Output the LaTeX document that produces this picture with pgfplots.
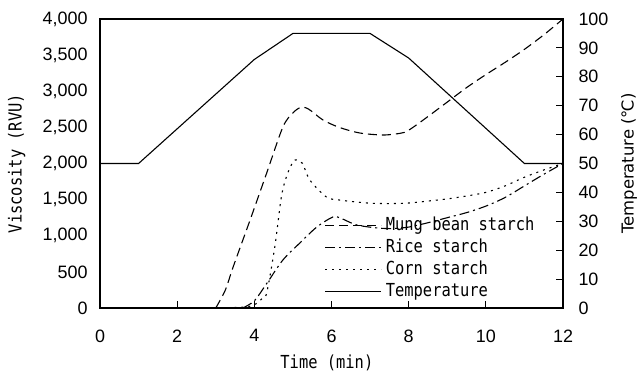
\documentclass[border=0pt]{standalone}
\usepackage{pgfplots}
\pgfplotsset{compat=1.18}
\usepackage{fontspec}
\setmainfont{Liberation Sans}
\newfontfamily\monofont[FakeStretch=0.86]{DejaVu Sans Mono}
\newfontfamily\dejavu{DejaVu Sans}
\begin{document}
\begin{tikzpicture}
\pgfplotsset{
 common/.style={
  scale only axis, width=463bp, height=289bp,
  xmin=0, xmax=12,
  axis line style={line width=1.2bp},
  tick style={line width=1bp,black},
  major tick length=7bp,
  tick align=inside,
  /pgf/number format/assume math mode=true,
  tick label style={font=\fontsize{18}{20}\selectfont},
 }
}
\begin{axis}[common,
  ymin=0, ymax=4000,
  xtick={0,2,...,12}, ytick={0,500,...,4000},
  xtick pos=bottom, ytick pos=left,
  ytick style={draw=none},
  /pgf/number format/1000 sep={,},
  scaled y ticks=false,
  xticklabel style={yshift=-18bp},
  yticklabel style={xshift=-9bp},
  xlabel={Time (min)}, ylabel={Viscosity (RVU)},
  label style={font=\monofont\fontsize{18}{20}\selectfont},
  xlabel style={at={(axis description cs:0.49,-0.19)}, anchor=center},
  ylabel style={at={(axis description cs:-0.18,0.5)}, anchor=center},
  legend style={at={(axis description cs:0.485,0.318)}, anchor=north west,
    draw=none, fill=none, font=\monofont\fontsize{18}{20}\selectfont,
    row sep=3bp, column sep=3bp, inner sep=0pt,
    nodes={inner sep=1bp, text height=13bp, text depth=4bp}},
  legend cell align=left,
  legend image code/.code={\draw[#1] (0bp,0bp) -- (56bp,0bp);},
]
\coordinate (bl) at (rel axis cs:0,0);
\coordinate (tr) at (rel axis cs:1,1);
\addplot[black, line width=1.1bp, dash pattern=on 9bp off 5bp, smooth] coordinates {
(3.0,0) (3.25,250) (3.45,567) (3.89,1218) (4.32,1868) (4.74,2505) (5.0,2700) (5.2,2775) (5.4,2755) (5.78,2602) (6.2,2500) (6.66,2430) (7.0,2405) (7.4,2395) (7.8,2420) (8.0,2460) (8.5,2650) (9.0,2850) (9.5,3050) (10.0,3230) (10.5,3400) (11.0,3580) (11.5,3780) (12.0,4000)};
\addlegendentry{Mung bean starch}
\addplot[black, line width=1.1bp, dash pattern=on 10bp off 4bp on 2bp off 4bp, smooth] coordinates {
(3.7,0) (4.0,100) (4.33,346) (4.74,664) (5.18,900) (5.62,1121) (6.04,1260) (6.25,1240) (6.65,1150) (7.2,1107) (7.6,1100) (8.0,1120) (8.5,1180) (9.0,1250) (9.5,1320) (10.0,1410) (10.5,1530) (11.0,1690) (11.5,1850) (12.0,2000)};
\addlegendentry{Rice starch}
\addplot[black, line width=1.1bp, dash pattern=on 2bp off 5bp, smooth] coordinates {
(3.3,0) (3.6,10) (3.85,20) (4.05,60) (4.2,130) (4.32,208) (4.53,844) (4.7,1536) (4.84,1830) (5.0,2020) (5.1,2050) (5.25,2000) (5.44,1770) (5.87,1536) (6.2,1495) (6.74,1462) (7.0,1450) (7.5,1445) (8.0,1453) (8.5,1480) (9.0,1510) (9.5,1550) (10.0,1600) (10.5,1690) (11.0,1810) (11.5,1910) (12.0,2000)};
\addlegendentry{Corn starch}
\addlegendimage{black, line width=1.1bp, solid}
\addlegendentry{Temperature}
\end{axis}
\begin{axis}[common,
  ymin=0, ymax=100,
  ytick={0,10,...,100},
  axis y line*=right, axis x line=none,
  yticklabel style={xshift=12bp},
  ylabel={Temperature (℃)},
  ylabel style={font=\dejavu\fontsize{16.5}{18}\selectfont, at={(axis description cs:1.1425,0.5)}, anchor=center},
]
\addplot[black, line width=1.1bp] coordinates {(0,50) (1,50) (4,86) (5,95) (7,95) (8,86.5) (11,50) (12,50)};
\end{axis}
\pgfresetboundingbox
\path ([xshift=-100bp,yshift=-75bp]bl) rectangle ([xshift=75bp,yshift=19bp]tr);
\end{tikzpicture}
\end{document}
